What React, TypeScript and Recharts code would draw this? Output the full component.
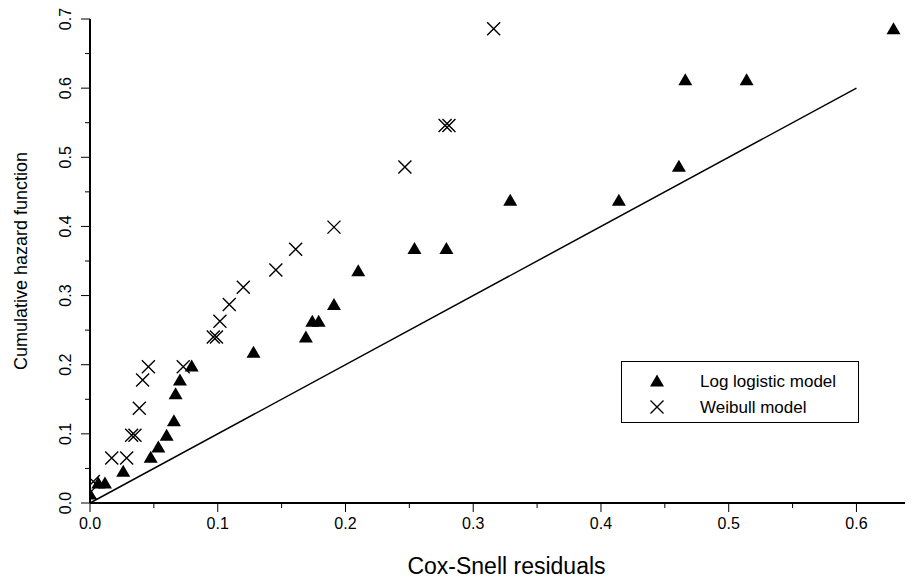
import React from 'react';
import { ScatterChart, Scatter, XAxis, YAxis, ReferenceLine, Legend } from 'recharts';

// Cox-Snell residuals vs cumulative hazard
const logLogisticX = [0.0, 0.0065, 0.0117, 0.026, 0.0475, 0.0535, 0.06, 0.0657, 0.067, 0.0704, 0.0796, 0.128, 0.169, 0.174, 0.179, 0.191, 0.21, 0.254, 0.279, 0.329, 0.414, 0.461, 0.466, 0.514, 0.629];
const logLogisticY = [0.013, 0.029, 0.029, 0.046, 0.066, 0.081, 0.098, 0.119, 0.158, 0.178, 0.198, 0.218, 0.24, 0.263, 0.263, 0.287, 0.336, 0.368, 0.368, 0.438, 0.438, 0.487, 0.612, 0.612, 0.686];

const weibullX = [0.0, 0.0026, 0.017, 0.0287, 0.0326, 0.0352, 0.0386, 0.0412, 0.0457, 0.073, 0.0965, 0.099, 0.1017, 0.109, 0.12, 0.1455, 0.161, 0.191, 0.2465, 0.278, 0.281, 0.316];
const weibullY = [0.015, 0.031, 0.065, 0.065, 0.098, 0.098, 0.137, 0.178, 0.197, 0.197, 0.24, 0.24, 0.263, 0.287, 0.312, 0.337, 0.367, 0.399, 0.486, 0.546, 0.546, 0.686];

const xTicks = [0, 0.05, 0.1, 0.15, 0.2, 0.25, 0.3, 0.35, 0.4, 0.45, 0.5, 0.55, 0.6];
const yTicks = [0, 0.05, 0.1, 0.15, 0.2, 0.25, 0.3, 0.35, 0.4, 0.45, 0.5, 0.55, 0.6, 0.65, 0.7];

const diagonal = [{ x: 0, y: 0 }, { x: 0.6, y: 0.6 }];

const logLogistic = logLogisticX.map((x, i) => ({ x, y: logLogisticY[i] }));
const weibull = weibullX.map((x, i) => ({ x, y: weibullY[i] }));

const FONT = '"Liberation Sans", Arial, sans-serif';

const isMajor = (v: number) => Math.round(v * 100) % 10 === 0;

const Triangle = (props: any) => {
    const { cx, cy } = props;
    if (cx == null || cy == null) return null;
    return <path d={`M${cx},${cy - 6.5} L${cx + 7},${cy + 5.5} L${cx - 7},${cy + 5.5} Z`} fill="#000" />;
};

const Cross = (props: any) => {
    const { cx, cy } = props;
    if (cx == null || cy == null) return null;
    const r = 6.5;
    return (
        <path
            d={`M${cx - r},${cy - r} L${cx + r},${cy + r} M${cx - r},${cy + r} L${cx + r},${cy - r}`}
            stroke="#000"
            strokeWidth={1.4}
            fill="none"
        />
    );
};

const XTick = (props: any) => {
    const { x, y, payload } = props;
    const major = isMajor(payload.value);
    return (
        <g>
            <line x1={x} y1={y} x2={x} y2={y + (major ? 9 : 5)} stroke="#000" strokeWidth={1} />
            {major && (
                <text x={x} y={y + 26} textAnchor="middle" fontSize={16} fontFamily={FONT} fill="#000">
                    {payload.value.toFixed(1)}
                </text>
            )}
        </g>
    );
};

const YTick = (props: any) => {
    const { x, y, payload } = props;
    const major = isMajor(payload.value);
    return (
        <g>
            <line x1={x} y1={y} x2={x - (major ? 9 : 5)} y2={y} stroke="#000" strokeWidth={1} />
            {major && (
                <text
                    x={x - 19}
                    y={y}
                    transform={`rotate(-90 ${x - 19} ${y})`}
                    textAnchor="middle"
                    fontSize={16}
                    fontFamily={FONT}
                    fill="#000"
                >
                    {payload.value.toFixed(1)}
                </text>
            )}
        </g>
    );
};

const LegendBox = () => (
    <svg width={239} height={63} style={{ display: 'block' }}>
        <rect x={0.5} y={0.5} width={237} height={61} fill="#fff" stroke="#000" strokeWidth={1} />
        <Triangle cx={36} cy={20} />
        <Cross cx={36} cy={46} />
        <text x={79} y={26} fontSize={17} fontFamily={FONT} fill="#000">Log logistic model</text>
        <text x={79} y={52} fontSize={17} fontFamily={FONT} fill="#000">Weibull model</text>
    </svg>
);

export default function App() {
    return (
        <div style={{ position: 'absolute', left: 0, top: 0, background: '#fff' }}>
            <ScatterChart width={917} height={582} margin={{ top: 19, right: 12, bottom: 0, left: 30 }}>
                <XAxis
                    type="number"
                    dataKey="x"
                    domain={[0, 0.638]}
                    ticks={xTicks}
                    tick={<XTick />}
                    tickLine={false}
                    tickSize={0}
                    tickMargin={0}
                    axisLine={{ stroke: '#000', strokeWidth: 2 }}
                    height={79}
                    interval={0}
                    allowDataOverflow
                    label={{ value: 'Cox-Snell residuals', position: 'insideBottom', offset: 8, dx: 9, fontSize: 23, fontFamily: FONT, fill: '#000' }}
                />
                <YAxis
                    type="number"
                    dataKey="y"
                    domain={[0, 0.7]}
                    ticks={yTicks}
                    tick={<YTick />}
                    tickLine={false}
                    tickSize={0}
                    tickMargin={0}
                    axisLine={{ stroke: '#000', strokeWidth: 2 }}
                    width={60}
                    interval={0}
                    allowDataOverflow
                    label={{ value: 'Cumulative hazard function', angle: -90, position: 'insideLeft', offset: -9, fontSize: 18, fontFamily: FONT, fill: '#000', style: { textAnchor: 'middle' } }}
                />
                <ReferenceLine segment={diagonal} stroke="#000" strokeWidth={1.5} />
                <Scatter name="Log logistic model" data={logLogistic} shape={<Triangle />} isAnimationActive={false} />
                <Scatter name="Weibull model" data={weibull} shape={<Cross />} isAnimationActive={false} />
                <Legend
                    layout="horizontal"
                    verticalAlign="middle"
                    align="center"
                    content={() => <LegendBox />}
                    wrapperStyle={{ left: 621, top: 361, width: 239, height: 63 }}
                />
            </ScatterChart>
        </div>
    );
}
